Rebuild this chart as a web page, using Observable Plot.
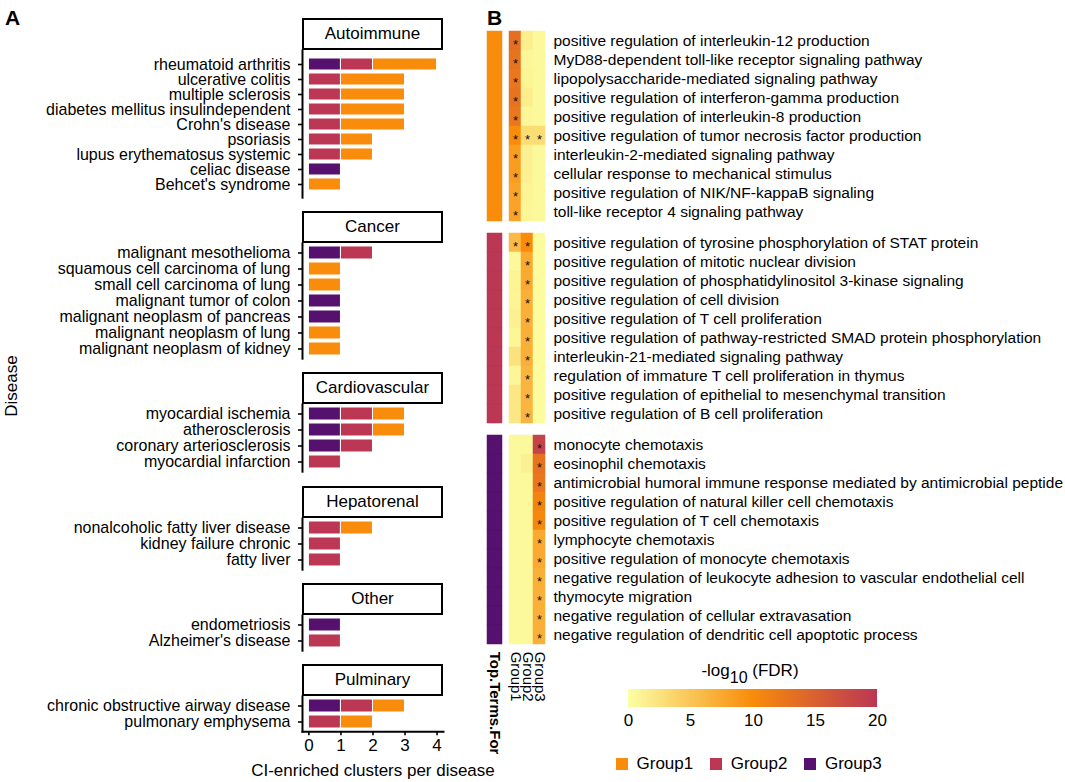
<!DOCTYPE html>
<html><head><meta charset="utf-8">
<script src="https://cdn.jsdelivr.net/npm/d3@7"></script>
<script src="https://cdn.jsdelivr.net/npm/@observablehq/plot@0.6"></script>
<style>
body{margin:0;background:#fff;}
#root{position:relative;width:1065px;height:782px;background:#fff;font-family:"Liberation Sans",Arial,sans-serif;color:#000;overflow:hidden;}
.abs{position:absolute;}
.strip{position:absolute;box-sizing:border-box;border:2px solid #000;background:#fff;display:flex;align-items:center;justify-content:center;font-size:17px;}
.fdrleg-ramp .tick line{display:none;}
</style></head><body><div id="root"></div>
<script>
// ---------- Panel A data ----------
const categories = ["Autoimmune","Cancer","Cardiovascular","Hepatorenal","Other","Pulminary"];
const diseases = [
  "rheumatoid arthritis","ulcerative colitis","multiple sclerosis","diabetes mellitus insulindependent","Crohn's disease","psoriasis","lupus erythematosus systemic","celiac disease","Behcet's syndrome",
  "malignant mesothelioma","squamous cell carcinoma of lung","small cell carcinoma of lung","malignant tumor of colon","malignant neoplasm of pancreas","malignant neoplasm of lung","malignant neoplasm of kidney",
  "myocardial ischemia","atherosclerosis","coronary arteriosclerosis","myocardial infarction",
  "nonalcoholic fatty liver disease","kidney failure chronic","fatty liver",
  "endometriosis","Alzheimer's disease",
  "chronic obstructive airway disease","pulmonary emphysema"
];
const diseaseCategory = [
  "Autoimmune","Autoimmune","Autoimmune","Autoimmune","Autoimmune","Autoimmune","Autoimmune","Autoimmune","Autoimmune",
  "Cancer","Cancer","Cancer","Cancer","Cancer","Cancer","Cancer",
  "Cardiovascular","Cardiovascular","Cardiovascular","Cardiovascular",
  "Hepatorenal","Hepatorenal","Hepatorenal",
  "Other","Other",
  "Pulminary","Pulminary"
];
const group1Clusters = [2,2,2,2,2,1,1,0,1, 0,1,1,0,0,1,1, 1,1,0,0, 1,0,0, 0,0, 1,1];
const group2Clusters = [1,1,1,1,1,1,1,0,0, 1,0,0,0,0,0,0, 1,1,1,1, 1,1,1, 0,1, 1,1];
const group3Clusters = [1,0,0,0,0,0,0,1,0, 1,0,0,1,1,0,0, 1,1,1,0, 0,0,0, 1,0, 1,0];
const groups = ["Group1","Group2","Group3"];
const groupColors = ["#F98C0A","#BB3754","#56106E"];
const stackOrder = ["Group3","Group2","Group1"];
const xTicks = [0,1,2,3,4];

// ---------- Panel B data ----------
const terms = [
  "positive regulation of interleukin-12 production",
  "MyD88-dependent toll-like receptor signaling pathway",
  "lipopolysaccharide-mediated signaling pathway",
  "positive regulation of interferon-gamma production",
  "positive regulation of interleukin-8 production",
  "positive regulation of tumor necrosis factor production",
  "interleukin-2-mediated signaling pathway",
  "cellular response to mechanical stimulus",
  "positive regulation of NIK/NF-kappaB signaling",
  "toll-like receptor 4 signaling pathway",
  "positive regulation of tyrosine phosphorylation of STAT protein",
  "positive regulation of mitotic nuclear division",
  "positive regulation of phosphatidylinositol 3-kinase signaling",
  "positive regulation of cell division",
  "positive regulation of T cell proliferation",
  "positive regulation of pathway-restricted SMAD protein phosphorylation",
  "interleukin-21-mediated signaling pathway",
  "regulation of immature T cell proliferation in thymus",
  "positive regulation of epithelial to mesenchymal transition",
  "positive regulation of B cell proliferation",
  "monocyte chemotaxis",
  "eosinophil chemotaxis",
  "antimicrobial humoral immune response mediated by antimicrobial peptide",
  "positive regulation of natural killer cell chemotaxis",
  "positive regulation of T cell chemotaxis",
  "lymphocyte chemotaxis",
  "positive regulation of monocyte chemotaxis",
  "negative regulation of leukocyte adhesion to vascular endothelial cell",
  "thymocyte migration",
  "negative regulation of cellular extravasation",
  "negative regulation of dendritic cell apoptotic process"
];
const termTopFor = [
  "Group1","Group1","Group1","Group1","Group1","Group1","Group1","Group1","Group1","Group1",
  "Group2","Group2","Group2","Group2","Group2","Group2","Group2","Group2","Group2","Group2",
  "Group3","Group3","Group3","Group3","Group3","Group3","Group3","Group3","Group3","Group3","Group3"
];
const fdrGroup1 = [13.5,13,12.5,13,12.5,10,8.5,8.5,8,8, 6,0.5,1,1,1.2,0.8,2.5,0.8,2,2, 0.5,0.5,0.5,0.5,0.5,0.5,0.5,0.5,0.5,0.5,0.5];
const fdrGroup2 = [1.5,0.8,1,1.5,0.8,3,1.2,1.2,1,0.8, 10,7.5,7.5,7,7,7,7,6.5,6.5,6.5, 0.5,1.2,0.5,0.5,0.5,0.5,0.5,0.5,0.5,0.5,0.5];
const fdrGroup3 = [0.5,0.5,0.5,0.5,0.5,3,0.5,0.5,0.5,0.5, 0.3,0.3,0.3,0.3,0.3,0.3,0.3,0.3,0.3,0.3, 18.5,13,12.5,11,10.5,7.5,7.5,7,7,7,7];
const sigGroup1 = [1,1,1,1,1,1,1,1,1,1, 1,0,0,0,0,0,0,0,0,0, 0,0,0,0,0,0,0,0,0,0,0];
const sigGroup2 = [0,0,0,0,0,1,0,0,0,0, 1,1,1,1,1,1,1,1,1,1, 0,0,0,0,0,0,0,0,0,0,0];
const sigGroup3 = [0,0,0,0,0,1,0,0,0,0, 0,0,0,0,0,0,0,0,0,0, 1,1,1,1,1,1,1,1,1,1,1];
const fdrColorDomain = [0,10,20];
const fdrColorRange = ["#FCFFA4","#F98C0A","#BB3754"];
const fdrTicks = [0,5,10,15,20];

// ---------- build tables ----------
const barRows = [];
diseases.forEach((d,i) => {
  [["Group3", group3Clusters[i]], ["Group2", group2Clusters[i]], ["Group1", group1Clusters[i]]].forEach(([g,c]) => {
    if (c > 0) barRows.push({disease: d, category: diseaseCategory[i], group: g, count: c});
  });
});
const fdrCols = [fdrGroup1, fdrGroup2, fdrGroup3];
const sigCols = [sigGroup1, sigGroup2, sigGroup3];
const cellRows = [];
terms.forEach((t,i) => groups.forEach((g,k) => cellRows.push({term: t, topFor: termTopFor[i], group: g, fdr: fdrCols[k][i], sig: sigCols[k][i] === 1})));
const annRows = terms.map((t,i) => ({term: t, topFor: termTopFor[i], col: "Top.Terms.For"}));

const root = document.getElementById("root");
const FONT = '"Liberation Sans", Arial, sans-serif';
function place(node, left, y0, w) {
  const d = document.createElement("div");
  d.className = "abs"; d.style.left = left + "px"; d.style.top = y0 + "px";
  if (w) d.style.width = w + "px";
  d.append(node); root.append(d); return d;
}
function baseStyle(fs) { return {fontFamily: FONT, fontSize: fs + "px", color: "#000", background: "transparent", overflow: "visible"}; }

// ---------- Panel A ----------
const U = 16, STRIP = 32, GAP = 14;
let yCursor = 18;
const xDomain = [-0.2, 4.2];
categories.forEach((cat, i) => {
  const ds = diseases.filter((d,j) => diseaseCategory[j] === cat);
  const last = i === categories.length - 1;
  const s = document.createElement("div");
  s.className = "strip"; s.style.left = "302px"; s.style.top = yCursor + "px"; s.style.width = "141px"; s.style.height = STRIP + "px";
  s.textContent = cat; root.append(s);
  const panelTop = yCursor + STRIP;
  const ph = U * (ds.length + 0.2);
  const mb = last ? 58 : 0;
  const marks = [
    Plot.barX(barRows.filter(r => r.category === cat), Plot.stackX({x: "count", y: "disease", fill: "group", order: stackOrder, stroke: "white", strokeWidth: 1})),
    Plot.axisY({tickSize: 4, tickPadding: 8, fontSize: 16, label: null, strokeWidth: 1.6}),
    Plot.frame({anchor: "left", strokeWidth: 2})
  ];
  if (last) {
    marks.push(Plot.frame({anchor: "bottom", strokeWidth: 2}));
    marks.push(Plot.axisX({ticks: xTicks, tickFormat: "d", tickSize: 4, tickPadding: 3, fontSize: 17, strokeWidth: 1.6, label: "CI-enriched clusters per disease", labelAnchor: "center", labelArrow: "none", labelOffset: 44}));
  }
  const chart = Plot.plot({
    width: 450, height: ph + mb, marginLeft: 302, marginRight: 7, marginTop: 0, marginBottom: mb,
    style: baseStyle(17),
    x: last ? {domain: xDomain} : {domain: xDomain, axis: null},
    y: {domain: ds, padding: 0.2},
    color: {domain: groups, range: groupColors},
    marks
  });
  place(chart, 0, panelTop, 450);
  yCursor = panelTop + ph + GAP;
});

// ---------- Panel B ----------
const ROW = 19.2, BGAP = 10;
let bCursor = 30;
groups.forEach((g, bi) => {
  const bt = terms.filter((t,i) => termTopFor[i] === g);
  const last = bi === groups.length - 1;
  const h = bt.length * ROW;
  const mb = last ? 130 : 0;
  const cells = cellRows.filter(r => r.topFor === g);
  const heat = Plot.plot({
    width: 36 + 520, height: h + mb, marginLeft: 0, marginRight: 520, marginTop: 0, marginBottom: mb,
    style: baseStyle(15.5),
    x: last ? {domain: groups, padding: 0} : {domain: groups, padding: 0, axis: null},
    y: {domain: bt, padding: 0},
    color: {type: "linear", domain: fdrColorDomain, range: fdrColorRange},
    marks: [
      Plot.cell(cells, {x: "group", y: "term", fill: "fdr", stroke: "fdr", strokeWidth: 0.5, inset: 0}),
      Plot.text(cells.filter(r => r.sig), {x: "group", y: "term", text: () => "*", fontSize: 13, dy: 3.5, fill: "#111"}),
      Plot.axisY({anchor: "right", tickSize: 0, tickPadding: 8, fontSize: 15.5, label: null}),
      last ? Plot.axisX({tickRotate: 90, tickSize: 0, tickPadding: 6, fontSize: 15, label: null}) : null
    ]
  });
  place(heat, 509, bCursor, 556);
  const ann = Plot.plot({
    width: 15, height: h + mb, margin: 0, marginBottom: mb,
    style: baseStyle(15),
    x: last ? {domain: ["Top.Terms.For"], padding: 0} : {domain: ["Top.Terms.For"], padding: 0, axis: null},
    y: {domain: bt, padding: 0, axis: null},
    color: {domain: groups, range: groupColors},
    marks: [
      Plot.cell(annRows.filter(r => r.topFor === g), {x: "col", y: "term", fill: "topFor", stroke: "topFor", strokeWidth: 0.5, inset: 0}),
      last ? Plot.axisX({tickRotate: 90, tickSize: 0, tickPadding: 6, fontSize: 15, fontWeight: "bold", label: null}) : null
    ]
  });
  place(ann, 487, bCursor, 15);
  bCursor += h + BGAP;
});

// ---------- Legends ----------
const title = document.createElement("div");
title.style.cssText = "width:300px;text-align:center;font-size:17px;line-height:17px;";
title.innerHTML = "-log<sub style='font-size:16px;vertical-align:-7px;line-height:0'>10</sub> (FDR)";
place(title, 600, 662, 300);

const ramp = Plot.legend({
  color: {type: "linear", domain: fdrColorDomain, range: fdrColorRange},
  width: 269, height: 44, marginLeft: 10, marginRight: 10, marginTop: 0, marginBottom: 26,
  tickSize: 4, ticks: fdrTicks.length - 1, label: null, className: "fdrleg",
  style: {fontFamily: FONT, fontSize: "17px", color: "#000", background: "transparent", overflow: "visible"}
});
place(ramp, 618, 689, 269);

const sw = Plot.legend({
  color: {domain: groups, range: groupColors}, swatchSize: 12, className: "grpleg",
  style: {fontFamily: FONT, fontSize: "17px", color: "#000", background: "transparent"}
});
place(sw, 616, 747, 400);

// ---------- Labels ----------
const A = document.createElement("div"); A.style.cssText = "font-weight:bold;font-size:21px;"; A.textContent = "A"; place(A, 5, 6);
const B = document.createElement("div"); B.style.cssText = "font-weight:bold;font-size:21px;"; B.textContent = "B"; place(B, 487, 6);
const yt = document.createElement("div");
yt.style.cssText = "font-size:17px;line-height:20px;transform:rotate(-90deg);transform-origin:center;width:80px;text-align:center;";
yt.textContent = "Disease";
place(yt, -28, 376, 80);
</script></body></html>
